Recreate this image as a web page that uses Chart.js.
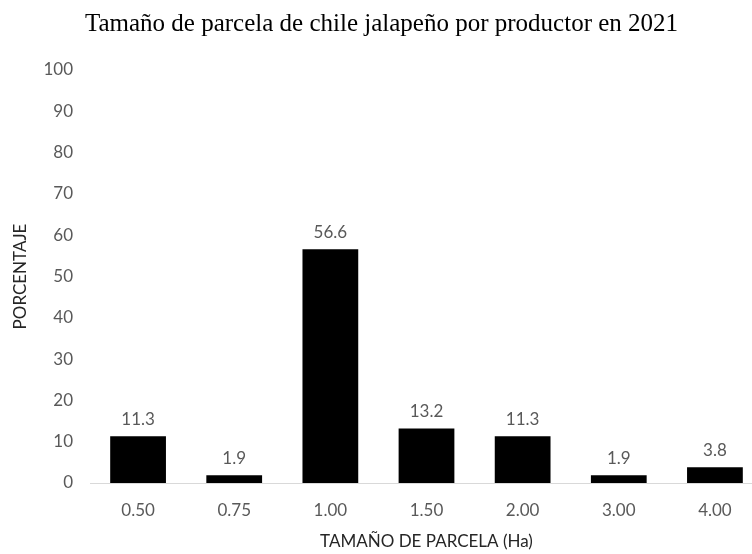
<!DOCTYPE html>
<html>
<head>
<meta charset="utf-8">
<script src="https://cdn.jsdelivr.net/npm/chart.js@4/dist/chart.umd.min.js"></script>
<style>
  html, body { margin: 0; padding: 0; background: #fff; overflow: hidden; }
  #wrap { position: relative; width: 775px; height: 554px; }
</style>
</head>
<body>
<div id="wrap"><canvas id="parcela-chart"></canvas></div>
<script>
// tamaños de parcela (Ha) y porcentaje de productores
const categories = ['0.50', '0.75', '1.00', '1.50', '2.00', '3.00', '4.00'];
const percentages = [11.3, 1.9, 56.6, 13.2, 11.3, 1.9, 3.8];
const yTicks = [0, 10, 20, 30, 40, 50, 60, 70, 80, 90, 100];

const sansFont = 'Lato, "Open Sans", sans-serif';

// etiquetas de valor encima de cada barra
const barLabels = {
  id: 'barLabels',
  afterDatasetsDraw(chart) {
    const ctx = chart.ctx;
    const meta = chart.getDatasetMeta(0);
    ctx.save();
    ctx.font = '17px ' + sansFont;
    ctx.fillStyle = '#595959';
    ctx.textAlign = 'center';
    ctx.textBaseline = 'middle';
    meta.data.forEach(function (bar, i) {
      ctx.fillText(percentages[i].toFixed(1), bar.x, bar.y - 17);
    });
    ctx.restore();
  }
};

const ctx = document.getElementById('parcela-chart').getContext('2d');
const chart = new Chart(ctx, {
  type: 'bar',
  data: {
    labels: categories,
    datasets: [{
      label: 'Porcentaje',
      data: percentages,
      backgroundColor: '#000000',
      borderWidth: 0,
      barPercentage: 0.58,
      categoryPercentage: 1
    }]
  },
  options: {
    responsive: true,
    maintainAspectRatio: false,
    animation: false,
    layout: { padding: { top: 9, left: 0, right: 12, bottom: 0 } },
    plugins: {
      legend: { display: false },
      tooltip: { enabled: false },
      title: {
        display: true,
        text: 'Tamaño de parcela de chile jalapeño por productor en 2021',
        color: '#000000',
        font: { family: '"Liberation Serif", "Times New Roman", serif', size: 25, weight: 'normal' },
        padding: { top: 0, bottom: 31 }
      }
    },
    scales: {
      x: {
        afterFit(scale) { scale.height = 71; },
        grid: { display: false, drawTicks: false },
        border: { display: true, color: '#d9d9d9', width: 1 },
        ticks: { color: '#595959', font: { family: sansFont, size: 17 }, padding: 17 },
        title: {
          display: true,
          text: 'TAMAÑO DE PARCELA (Ha)',
          color: '#262626',
          font: { family: sansFont, size: 17 },
          padding: { top: 0, bottom: 2 }
        }
      },
      y: {
        min: 0,
        max: 100,
        afterBuildTicks(scale) {
          scale.ticks = yTicks.map(function (v) { return { value: v }; });
        },
        afterFit(scale) { scale.width = 90; },
        grid: { display: false, drawTicks: false },
        border: { display: false },
        ticks: { color: '#595959', font: { family: sansFont, size: 17 }, padding: 17 },
        title: {
          display: true,
          text: 'PORCENTAJE',
          color: '#262626',
          font: { family: sansFont, size: 17 },
          padding: { top: 10, bottom: 0 }
        }
      }
    }
  },
  plugins: [barLabels]
});
</script>
</body>
</html>
